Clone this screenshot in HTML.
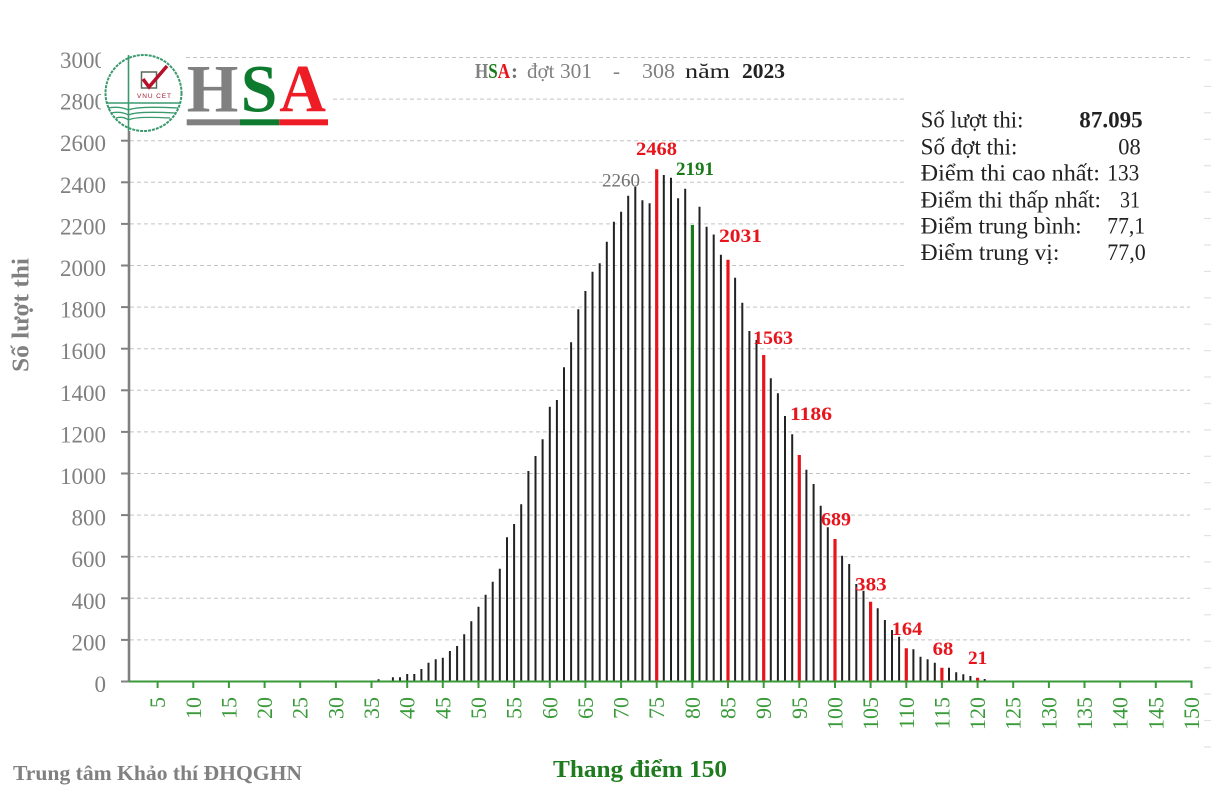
<!DOCTYPE html>
<html>
<head>
<meta charset="utf-8">
<style>
html,body{margin:0;padding:0;background:#fff;}
svg{display:block;font-family:"Liberation Serif","DejaVu Serif",serif;}
</style>
</head>
<body>
<svg width="1232" height="803" viewBox="0 0 1232 803" xmlns="http://www.w3.org/2000/svg">
<rect x="0" y="0" width="1232" height="803" fill="#fff"/>

<!-- gridlines -->
<g stroke="#c4c4c4" stroke-width="1" stroke-dasharray="4,3">
<line x1="130" y1="639.9" x2="1190" y2="639.9"/>
<line x1="130" y1="598.3" x2="1190" y2="598.3"/>
<line x1="130" y1="556.7" x2="1190" y2="556.7"/>
<line x1="130" y1="515.1" x2="1190" y2="515.1"/>
<line x1="130" y1="473.5" x2="1190" y2="473.5"/>
<line x1="130" y1="431.9" x2="1190" y2="431.9"/>
<line x1="130" y1="390.3" x2="1190" y2="390.3"/>
<line x1="130" y1="348.7" x2="1190" y2="348.7"/>
<line x1="130" y1="307.1" x2="1190" y2="307.1"/>
<line x1="130" y1="265.5" x2="1190" y2="265.5"/>
<line x1="130" y1="223.9" x2="1190" y2="223.9"/>
<line x1="130" y1="182.3" x2="1190" y2="182.3"/>
<line x1="130" y1="140.7" x2="1190" y2="140.7"/>
<line x1="130" y1="99.1" x2="1190" y2="99.1"/>
<line x1="130" y1="57.5" x2="1190" y2="57.5"/>
</g>

<!-- faint right ticks -->
<g stroke="#e2e2e2" stroke-width="1.2">
<line x1="1204" x2="1211" y1="60" y2="60"/><line x1="1204" x2="1211" y1="86.4" y2="86.4"/><line x1="1204" x2="1211" y1="112.8" y2="112.8"/><line x1="1204" x2="1211" y1="139.3" y2="139.3"/><line x1="1204" x2="1211" y1="165.7" y2="165.7"/><line x1="1204" x2="1211" y1="192.1" y2="192.1"/><line x1="1204" x2="1211" y1="218.5" y2="218.5"/><line x1="1204" x2="1211" y1="245" y2="245"/><line x1="1204" x2="1211" y1="271.4" y2="271.4"/><line x1="1204" x2="1211" y1="297.8" y2="297.8"/><line x1="1204" x2="1211" y1="324.2" y2="324.2"/><line x1="1204" x2="1211" y1="350.6" y2="350.6"/><line x1="1204" x2="1211" y1="377" y2="377"/><line x1="1204" x2="1211" y1="403.5" y2="403.5"/><line x1="1204" x2="1211" y1="429.9" y2="429.9"/><line x1="1204" x2="1211" y1="456.3" y2="456.3"/><line x1="1204" x2="1211" y1="482.7" y2="482.7"/><line x1="1204" x2="1211" y1="509.1" y2="509.1"/><line x1="1204" x2="1211" y1="535.6" y2="535.6"/><line x1="1204" x2="1211" y1="562" y2="562"/><line x1="1204" x2="1211" y1="588.4" y2="588.4"/><line x1="1204" x2="1211" y1="614.8" y2="614.8"/><line x1="1204" x2="1211" y1="641.2" y2="641.2"/><line x1="1204" x2="1211" y1="667.7" y2="667.7"/><line x1="1204" x2="1211" y1="694.1" y2="694.1"/><line x1="1204" x2="1211" y1="720.5" y2="720.5"/><line x1="1204" x2="1211" y1="746.9" y2="746.9"/>
</g>

<!-- y tick labels -->
<g font-size="23" fill="#808080" text-anchor="end">
<text x="106" y="692">0</text>
<text x="106" y="650.4">200</text>
<text x="106" y="608.8">400</text>
<text x="106" y="567.2">600</text>
<text x="106" y="525.6">800</text>
<text x="106" y="484">1000</text>
<text x="106" y="442.4">1200</text>
<text x="106" y="400.8">1400</text>
<text x="106" y="359.2">1600</text>
<text x="106" y="317.6">1800</text>
<text x="106" y="276">2000</text>
<text x="106" y="234.4">2200</text>
<text x="106" y="192.8">2400</text>
<text x="106" y="151.2">2600</text>
<text x="106" y="109.6">2800</text>
<text x="106" y="68">3000</text>
</g>

<!-- y axis ticks & line -->
<g stroke="#808080" stroke-width="2">
<line x1="121" x2="129" y1="681.5" y2="681.5"/><line x1="121" x2="129" y1="639.9" y2="639.9"/><line x1="121" x2="129" y1="598.3" y2="598.3"/><line x1="121" x2="129" y1="556.7" y2="556.7"/><line x1="121" x2="129" y1="515.1" y2="515.1"/><line x1="121" x2="129" y1="473.5" y2="473.5"/><line x1="121" x2="129" y1="431.9" y2="431.9"/><line x1="121" x2="129" y1="390.3" y2="390.3"/><line x1="121" x2="129" y1="348.7" y2="348.7"/><line x1="121" x2="129" y1="307.1" y2="307.1"/><line x1="121" x2="129" y1="265.5" y2="265.5"/><line x1="121" x2="129" y1="223.9" y2="223.9"/><line x1="121" x2="129" y1="182.3" y2="182.3"/><line x1="121" x2="129" y1="140.7" y2="140.7"/><line x1="121" x2="129" y1="99.1" y2="99.1"/><line x1="121" x2="129" y1="57.5" y2="57.5"/>
</g>
<line x1="129" y1="50" x2="129" y2="682" stroke="#808080" stroke-width="2.6"/>

<!-- bars -->
<path fill="none" stroke="#222" stroke-width="2" d="M378.6 681.5V679.3 M392.9 681.5V677.3 M400 681.5V677.3 M407.2 681.5V674 M414.3 681.5V674 M421.4 681.5V669 M428.5 681.5V662.7 M435.7 681.5V659.3 M442.8 681.5V657.7 M449.9 681.5V651 M457.1 681.5V646 M464.2 681.5V634.3 M471.3 681.5V621.3 M478.5 681.5V606.7 M485.6 681.5V594.7 M492.7 681.5V581.7 M499.8 681.5V568.7 M507 681.5V537.3 M514.1 681.5V524 M521.2 681.5V504.3 M528.4 681.5V471 M535.5 681.5V456 M542.6 681.5V439.3 M549.8 681.5V406.7 M556.9 681.5V400 M564 681.5V367.3 M571.1 681.5V342.3 M578.3 681.5V309.3 M585.4 681.5V291 M592.5 681.5V271.7 M599.7 681.5V263.3 M606.8 681.5V241.7 M613.9 681.5V221.7 M621.1 681.5V211.7 M628.2 681.5V195.7 M635.3 681.5V186.7 M642.4 681.5V200.3 M649.6 681.5V203.3 M663.8 681.5V175 M671 681.5V177.7 M678.1 681.5V198.3 M685.2 681.5V188.7 M699.5 681.5V206.7 M706.6 681.5V226.7 M713.7 681.5V234.5 M720.9 681.5V254.7 M735.1 681.5V277.7 M742.3 681.5V302.7 M749.4 681.5V331 M756.5 681.5V340 M770.8 681.5V378.3 M777.9 681.5V393.3 M785 681.5V416 M792.2 681.5V434.3 M806.4 681.5V469.7 M813.6 681.5V484 M820.7 681.5V505.7 M827.8 681.5V527.3 M842.1 681.5V555.7 M849.2 681.5V564 M856.3 681.5V584 M863.5 681.5V590.7 M877.7 681.5V608.3 M884.9 681.5V620 M892 681.5V630 M899.1 681.5V636.7 M913.4 681.5V649.3 M920.5 681.5V656.7 M927.6 681.5V659.3 M934.8 681.5V662.7 M949 681.5V667.7 M956.2 681.5V672.3 M963.3 681.5V674.3 M970.4 681.5V676 M984.7 681.5V679"/>
<path fill="none" stroke="#e8141c" stroke-width="3.2" d="M656.7 681.5V169.3 M728 681.5V259.7 M763.7 681.5V355 M799.3 681.5V455 M835 681.5V539 M870.6 681.5V601.7 M906.3 681.5V648.3 M941.9 681.5V667.7 M977.6 681.5V677.7"/>
<path fill="none" stroke="#1a7a1a" stroke-width="3.2" d="M692.4 681.5V225"/>

<!-- x axis -->
<line x1="129" y1="681.5" x2="1192.5" y2="681.5" stroke="#3a9a3a" stroke-width="2"/>
<path fill="none" stroke="#3a9a3a" stroke-width="2" d="M157.6 681.5V688 M193.3 681.5V688 M228.9 681.5V688 M264.6 681.5V688 M300.2 681.5V688 M335.9 681.5V688 M371.5 681.5V688 M407.2 681.5V688 M442.8 681.5V688 M478.5 681.5V688 M514.1 681.5V688 M549.8 681.5V688 M585.4 681.5V688 M621.1 681.5V688 M656.7 681.5V688 M692.4 681.5V688 M728 681.5V688 M763.7 681.5V688 M799.3 681.5V688 M835 681.5V688 M870.6 681.5V688 M906.3 681.5V688 M941.9 681.5V688 M977.6 681.5V688 M1013.2 681.5V688 M1048.9 681.5V688 M1084.5 681.5V688 M1120.2 681.5V688 M1155.8 681.5V688 M1191.5 681.5V688"/>

<!-- x tick labels -->
<g font-size="22" fill="#3a9a3a" text-anchor="end" dominant-baseline="central">
<text transform="translate(157.6,697) rotate(-90)">5</text>
<text transform="translate(193.3,697) rotate(-90)">10</text>
<text transform="translate(228.9,697) rotate(-90)">15</text>
<text transform="translate(264.6,697) rotate(-90)">20</text>
<text transform="translate(300.2,697) rotate(-90)">25</text>
<text transform="translate(335.9,697) rotate(-90)">30</text>
<text transform="translate(371.5,697) rotate(-90)">35</text>
<text transform="translate(407.2,697) rotate(-90)">40</text>
<text transform="translate(442.8,697) rotate(-90)">45</text>
<text transform="translate(478.5,697) rotate(-90)">50</text>
<text transform="translate(514.1,697) rotate(-90)">55</text>
<text transform="translate(549.8,697) rotate(-90)">60</text>
<text transform="translate(585.4,697) rotate(-90)">65</text>
<text transform="translate(621.1,697) rotate(-90)">70</text>
<text transform="translate(656.7,697) rotate(-90)">75</text>
<text transform="translate(692.4,697) rotate(-90)">80</text>
<text transform="translate(728,697) rotate(-90)">85</text>
<text transform="translate(763.7,697) rotate(-90)">90</text>
<text transform="translate(799.3,697) rotate(-90)">95</text>
<text transform="translate(835,697) rotate(-90)">100</text>
<text transform="translate(870.6,697) rotate(-90)">105</text>
<text transform="translate(906.3,697) rotate(-90)">110</text>
<text transform="translate(941.9,697) rotate(-90)">115</text>
<text transform="translate(977.6,697) rotate(-90)">120</text>
<text transform="translate(1013.2,697) rotate(-90)">125</text>
<text transform="translate(1048.9,697) rotate(-90)">130</text>
<text transform="translate(1084.5,697) rotate(-90)">135</text>
<text transform="translate(1120.2,697) rotate(-90)">140</text>
<text transform="translate(1155.8,697) rotate(-90)">145</text>
<text transform="translate(1191.5,697) rotate(-90)">150</text>
</g>

<!-- value labels -->
<g font-size="19" font-weight="bold" fill="#e8141c">
<text x="636" y="155" textLength="41" lengthAdjust="spacingAndGlyphs">2468</text>
<text x="719" y="242" textLength="43" lengthAdjust="spacingAndGlyphs">2031</text>
<text x="753" y="344" textLength="40" lengthAdjust="spacingAndGlyphs">1563</text>
<text x="790" y="420" textLength="42" lengthAdjust="spacingAndGlyphs">1186</text>
<text x="821" y="525.7" textLength="30" lengthAdjust="spacingAndGlyphs">689</text>
<text x="855" y="590.7" textLength="31.7" lengthAdjust="spacingAndGlyphs">383</text>
<text x="891.7" y="635" textLength="30.6" lengthAdjust="spacingAndGlyphs">164</text>
<text x="932.7" y="655" textLength="20.6" lengthAdjust="spacingAndGlyphs">68</text>
<text x="968" y="664" textLength="19.3" lengthAdjust="spacingAndGlyphs">21</text>
</g>
<text x="676" y="175" font-size="19" font-weight="bold" fill="#1a7a1a" textLength="38" lengthAdjust="spacingAndGlyphs">2191</text>
<text x="602" y="186.7" font-size="19" fill="#707070" textLength="38" lengthAdjust="spacingAndGlyphs">2260</text>

<!-- logo white backgrounds -->
<rect x="101" y="44" width="84" height="87" fill="#fff"/>
<rect x="185" y="62" width="146" height="65" fill="#fff"/>

<!-- logo -->
<g fill="none" stroke="#3a9a6e">
<circle cx="143.5" cy="93" r="38" stroke-width="2" stroke-dasharray="3,1"/>
<line x1="128.5" y1="55" x2="128.5" y2="131" stroke-width="1.6"/>
<line x1="106" y1="103" x2="180" y2="103" stroke-width="1.6"/>
<path d="M108 108 Q120 106 128.5 110 Q137 106 178 108" stroke-width="1.3"/>
<path d="M111 113 Q121 111 128.5 115 Q137 111 175 113" stroke-width="1.3"/>
<path d="M116 118 Q123 116 128.5 120 Q135 116 170 118" stroke-width="1.3"/>
</g>
<rect x="141.5" y="72" width="15" height="16" fill="none" stroke="#5a6a5a" stroke-width="1.5"/>
<path d="M143 79 L149 87 L167 66" fill="none" stroke="#b8102a" stroke-width="3.5"/>
<text x="137" y="98" font-size="6.5" font-family="Liberation Sans, sans-serif" fill="#a02030" textLength="34">VNU CET</text>

<!-- HSA logo letters -->
<g font-size="68" font-weight="bold">
<text x="186.7" y="111.7" fill="#808080" textLength="51.6" lengthAdjust="spacingAndGlyphs">H</text>
<text x="240.7" y="111.7" fill="#0e7a2e" textLength="36.6" lengthAdjust="spacingAndGlyphs">S</text>
<text x="279.3" y="111.7" fill="#ee1c25" textLength="46.7" lengthAdjust="spacingAndGlyphs">A</text>
</g>
<rect x="186.7" y="119.3" width="53.3" height="6" fill="#808080"/>
<rect x="240" y="119.3" width="39.3" height="6" fill="#0e7a2e"/>
<rect x="279.3" y="119.3" width="48.7" height="6" fill="#ee1c25"/>

<!-- title -->
<g font-size="21">
<text x="475" y="78" font-weight="bold" textLength="35" lengthAdjust="spacingAndGlyphs"><tspan fill="#808080">H</tspan><tspan fill="#1a7a1a">S</tspan><tspan fill="#e8141c">A</tspan></text>
<text x="511" y="78" font-weight="bold" fill="#707070">:</text>
<text x="527" y="78" fill="#808080">đợt</text>
<text x="560" y="78" fill="#808080" textLength="32" lengthAdjust="spacingAndGlyphs">301</text>
<text x="613" y="78" fill="#808080">-</text>
<text x="642" y="78" fill="#808080" textLength="33" lengthAdjust="spacingAndGlyphs">308</text>
<text x="685" y="78" fill="#222" textLength="45" lengthAdjust="spacingAndGlyphs">năm</text>
<text x="742" y="78" fill="#222" font-weight="bold" textLength="43" lengthAdjust="spacingAndGlyphs">2023</text>
</g>

<!-- stats box -->
<rect x="904" y="92" width="296" height="192" fill="#fff"/>
<g font-size="23" fill="#222">
<text x="920.7" y="127.3" textLength="102.7" lengthAdjust="spacingAndGlyphs">Số lượt thi:</text>
<text x="920.7" y="154.3" textLength="96.7" lengthAdjust="spacingAndGlyphs">Số đợt thi:</text>
<text x="920.7" y="180.7" textLength="179.3" lengthAdjust="spacingAndGlyphs">Điểm thi cao nhất:</text>
<text x="920.7" y="207.3" textLength="180.3" lengthAdjust="spacingAndGlyphs">Điểm thi thấp nhất:</text>
<text x="920.7" y="233.3" textLength="161" lengthAdjust="spacingAndGlyphs">Điểm trung bình:</text>
<text x="920.7" y="260" textLength="138.7" lengthAdjust="spacingAndGlyphs">Điểm trung vị:</text>
<text x="1079.3" y="127.3" font-weight="bold" textLength="63.4" lengthAdjust="spacingAndGlyphs">87.095</text>
<text x="1118.3" y="154.3" textLength="22.4" lengthAdjust="spacingAndGlyphs">08</text>
<text x="1107.3" y="180.7" textLength="32" lengthAdjust="spacingAndGlyphs">133</text>
<text x="1120" y="207.3" textLength="20" lengthAdjust="spacingAndGlyphs">31</text>
<text x="1107.3" y="233.3" textLength="37.7" lengthAdjust="spacingAndGlyphs">77,1</text>
<text x="1107.3" y="260" textLength="38.4" lengthAdjust="spacingAndGlyphs">77,0</text>
</g>

<!-- axis titles -->
<text transform="translate(28.5,315) rotate(-90)" text-anchor="middle" font-size="24" font-weight="bold" fill="#808080" textLength="114" lengthAdjust="spacingAndGlyphs">Số lượt thi</text>
<text x="553" y="777" font-size="24" font-weight="bold" fill="#1e7b1e" textLength="174" lengthAdjust="spacingAndGlyphs">Thang điểm 150</text>
<text x="13" y="780" font-size="21" font-weight="bold" fill="#808080" textLength="289" lengthAdjust="spacingAndGlyphs">Trung tâm Khảo thí ĐHQGHN</text>
</svg>
</body>
</html>
